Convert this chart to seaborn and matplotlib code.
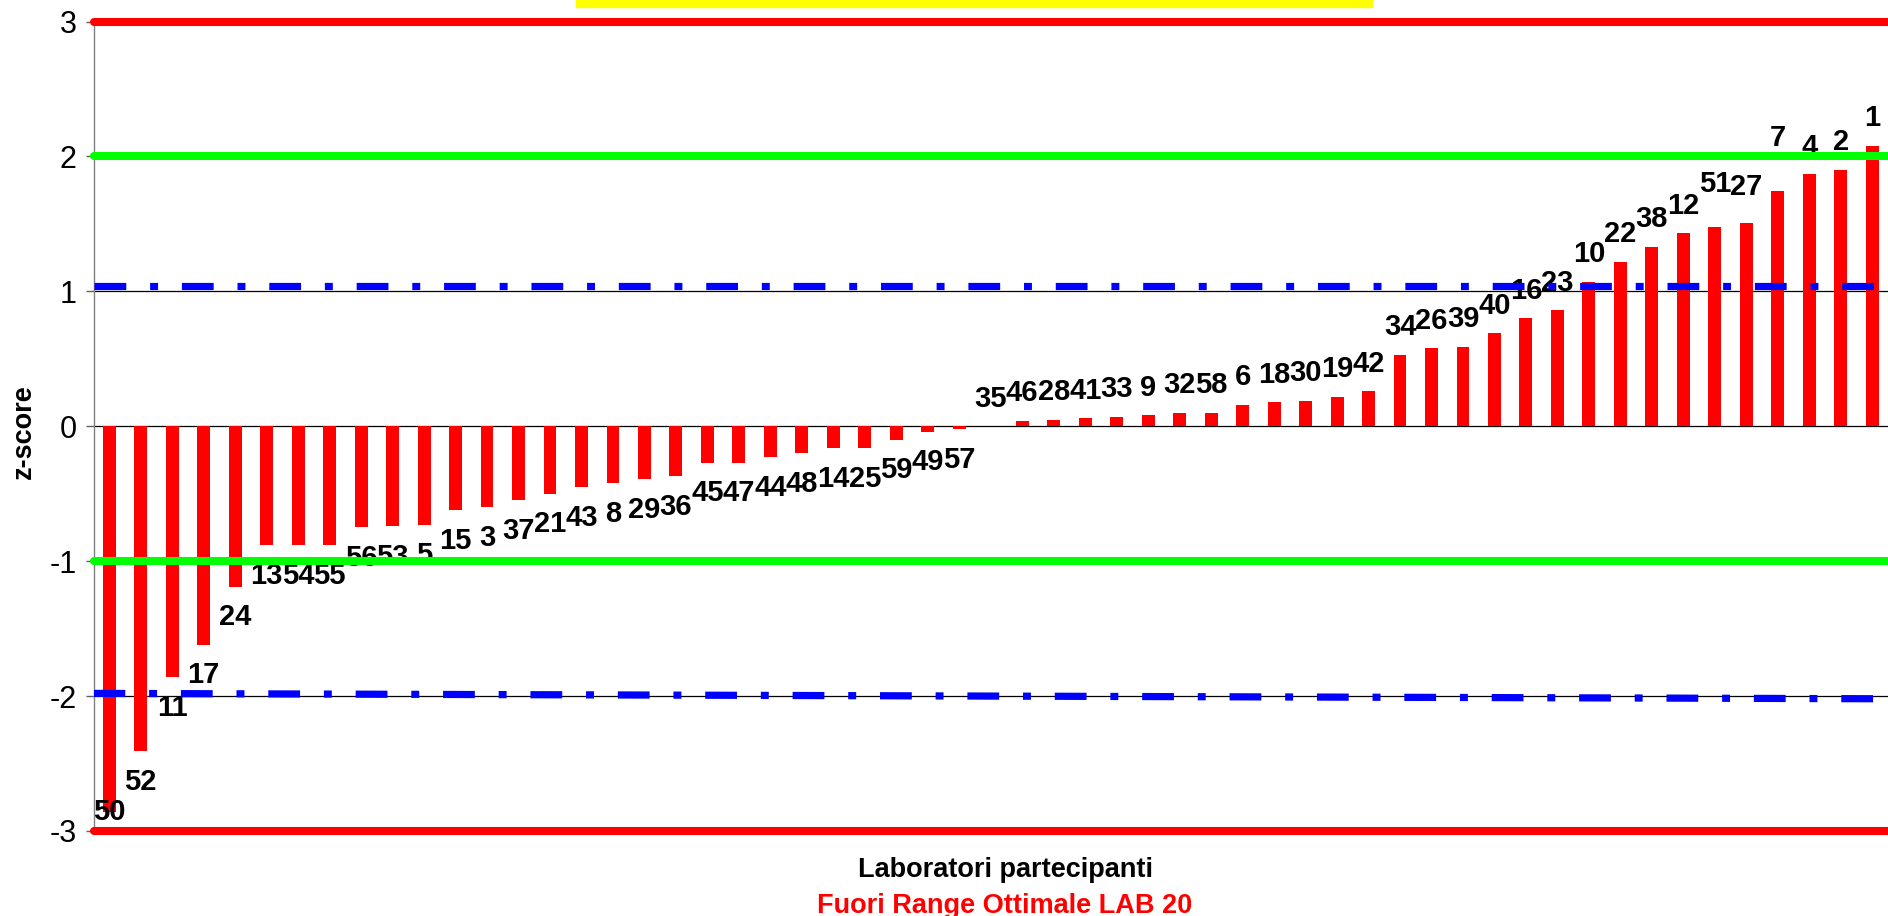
import matplotlib
matplotlib.use("Agg")
import matplotlib.pyplot as plt
from matplotlib.patches import Rectangle
import pandas as pd
import seaborn as sns

# laboratories sorted by z-score (LAB 20 excluded)
labs = ["50", "52", "11", "17", "24", "13", "54", "55", "56", "53",
        "5", "15", "3", "37", "21", "43", "8", "29", "36", "45",
        "47", "44", "48", "14", "25", "59", "49", "57", "35", "46",
        "28", "41", "33", "9", "32", "58", "6", "18", "30", "19",
        "42", "34", "26", "39", "40", "16", "23", "10", "22", "38",
        "12", "51", "27", "7", "4", "2", "1"]
zscores = [-2.86, -2.41, -1.86, -1.62, -1.19, -0.88, -0.88, -0.88, -0.75, -0.74,
           -0.73, -0.62, -0.60, -0.55, -0.50, -0.45, -0.42, -0.39, -0.37, -0.27,
           -0.27, -0.23, -0.20, -0.16, -0.16, -0.10, -0.04, -0.02, 0.00, 0.04,
           0.05, 0.06, 0.07, 0.08, 0.10, 0.10, 0.16, 0.18, 0.19, 0.22,
           0.26, 0.53, 0.58, 0.59, 0.69, 0.80, 0.86, 1.07, 1.22, 1.33,
           1.43, 1.48, 1.51, 1.74, 1.87, 1.90, 2.08]

red_limits = [3, -3]
green_limits = [2, -1]
blue_upper = 1.04
blue_lower = [-1.98, -2.02]  # left end, right end
yticks = [3, 2, 1, 0, -1, -2, -3]

# labels that were dragged upwards by hand in the original (points)
label_nudge = {"7": 19, "51": 11, "27": 6}

df = pd.DataFrame({"lab": labs, "z": zscores})

sns.set_style("white")
plt.rcParams["font.family"] = ["Liberation Sans", "DejaVu Sans"]
plt.rcParams["text.color"] = "black"
plt.rcParams["ytick.color"] = "black"
plt.rcParams["ytick.labelcolor"] = "black"

W, H = 1888, 916
fig = plt.figure(figsize=(W / 100, H / 100), dpi=100)
ax = fig.add_axes([93.5 / W, 85 / H, 1 - 93.5 / W, 809.5 / H])

sns.barplot(data=df, x="lab", y="z", color="#FF0000", saturation=1,
            width=0.41, linewidth=0, ax=ax, zorder=2)

ax.set_xlim(-0.5, len(labs) - 0.5)
ax.set_ylim(-3, 3)
ax.set_yticks(yticks)
ax.set_yticklabels([str(t) for t in yticks], fontsize=22, color="black")
ax.set_xticks([])
ax.set_xlabel("")
ax.set_ylabel("")

ax.grid(axis="y", color="black", linewidth=0.9, zorder=0.5)
ax.set_axisbelow(True)
for side in ["top", "right", "bottom"]:
    ax.spines[side].set_visible(False)
ax.spines["left"].set_color("#808080")
ax.spines["left"].set_linewidth(1.0)
ax.tick_params(axis="y", direction="out", length=6, width=1.0,
               color="#606060", pad=6, left=True)

# data labels
lab_size = 21
for i, (lab, v) in enumerate(zip(labs, zscores)):
    if v >= 0:
        ax.annotate(lab, (i, v), xytext=(0, 14 + label_nudge.get(lab, 0)),
                    textcoords="offset points", ha="center", va="baseline",
                    fontsize=lab_size, fontweight="bold", color="black",
                    zorder=3)
    elif v - 0.28 < ax.get_ylim()[0]:
        ax.annotate(lab, (i, v), ha="center", va="center", fontsize=lab_size,
                    fontweight="bold", color="black", zorder=3)
    else:
        ax.annotate(lab, (i, v), xytext=(0, -12), textcoords="offset points",
                    ha="center", va="top", fontsize=lab_size,
                    fontweight="bold", color="black", zorder=3)

# limit lines
for y in red_limits:
    ax.axhline(y, color="#FF0000", lw=5.8, clip_on=False, zorder=4)
for y in green_limits:
    ax.axhline(y, color="#00FF00", lw=5.8, clip_on=False, zorder=4)
dash = (0, (4.4, 3.3, 1.1, 3.3))
ax.axhline(blue_upper, color="#0000FF", lw=5.2, linestyle=dash,
           dash_capstyle="butt", zorder=4)
ax.plot(ax.get_xlim(), blue_lower, color="#0000FF", lw=5.2, linestyle=dash,
        dash_capstyle="butt", zorder=4)

# axis titles
fig.text(23.5 / W, 1 - 432 / H, "z-score", rotation=90, ha="center",
         va="center", fontsize=19.5, fontweight="bold", color="black")
fig.text(1005 / W, (H - 877) / H, "Laboratori partecipanti", ha="center",
         va="baseline", fontsize=19.5, fontweight="bold", color="black")
fig.text(1005 / W, (H - 913) / H, "Fuori Range Ottimale LAB 20", ha="center",
         va="baseline", fontsize=19.5, fontweight="bold", color="#FF0000")

# yellow title box cut off at the top
fig.patches.append(Rectangle((576 / W, 1 - 7 / H), (1372 - 576) / W, 7 / H,
                             transform=fig.transFigure, color="#FFFF00",
                             zorder=5))

fig.savefig("out.png", dpi=100)
plt.close(fig)
